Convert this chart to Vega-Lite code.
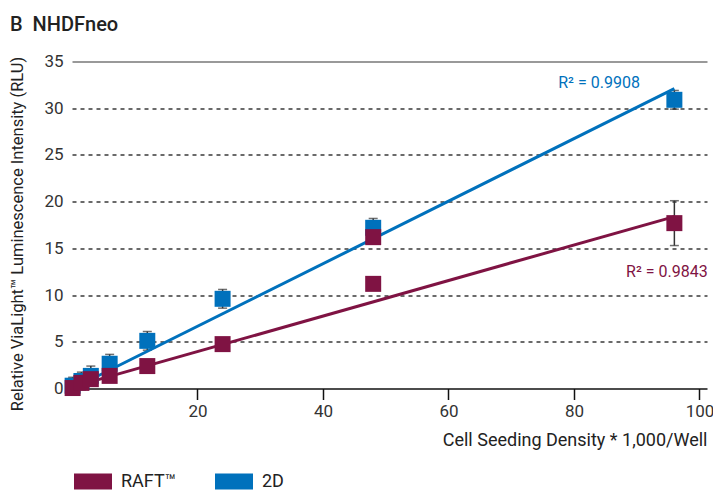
{
  "$schema": "https://vega.github.io/schema/vega-lite/v6.json",
  "autosize": {"type": "none"},
  "padding": {"left": 72, "top": 61.5, "right": 6, "bottom": 101.5},
  "width": 635,
  "height": 327,
  "background": "white",
  "config": {
    "font": "Roboto",
    "view": {"stroke": null},
    "axis": {"labelFont": "Roboto", "titleFont": "Roboto", "labelColor": "#333", "titleColor": "#222", "titleFontWeight": "normal"}
  },
  "title": {"text": "B\u00a0\u00a0NHDFneo", "anchor": "start", "frame": "group", "dx": -62, "offset": 18, "fontSize": 20, "fontWeight": 500, "color": "#222", "font": "Roboto"},
  "datasets": {
    "points": [
      {"series": "2D", "x": 0.1, "y": 0.3, "err": 0.9},
      {"series": "2D", "x": 1.5, "y": 0.8, "err": 0.95},
      {"series": "2D", "x": 3, "y": 1.35, "err": 1.05},
      {"series": "2D", "x": 6, "y": 2.65, "err": 1.0},
      {"series": "2D", "x": 12, "y": 5.1, "err": 1.0},
      {"series": "2D", "x": 24, "y": 9.6, "err": 1.0},
      {"series": "2D", "x": 48, "y": 17.2, "err": 1.0},
      {"series": "2D", "x": 96, "y": 30.9, "err": 1.0},
      {"series": "RAFT™", "x": 0.1, "y": 0.05, "err": 0.5},
      {"series": "RAFT™", "x": 1.5, "y": 0.6, "err": 0.5},
      {"series": "RAFT™", "x": 3, "y": 1.0, "err": 0.5},
      {"series": "RAFT™", "x": 6, "y": 1.35, "err": 0.5},
      {"series": "RAFT™", "x": 12, "y": 2.4, "err": 0.5},
      {"series": "RAFT™", "x": 24, "y": 4.75, "err": 0.5},
      {"series": "RAFT™", "x": 48, "y": 16.2, "err": 0.6},
      {"series": "RAFT™", "x": 48, "y": 11.2, "err": 0.6},
      {"series": "RAFT™", "x": 96, "y": 17.7, "err": 2.4}
    ],
    "fits": [
      {"series": "RAFT™", "x": 0.1, "y": 0.17},
      {"series": "RAFT™", "x": 96, "y": 18.4},
      {"series": "2D", "x": 0.1, "y": 0.0},
      {"series": "2D", "x": 96, "y": 32.1}
    ],
    "labels": [
      {"series": "2D", "x": 84.0, "y": 32.7, "label": "R² = 0.9908"},
      {"series": "RAFT™", "x": 94.8, "y": 12.45, "label": "R² = 0.9843"}
    ]
  },
  "layer": [
    {
      "data": {"name": "points"},
      "mark": {"type": "errorbar", "ticks": {"size": 9, "thickness": 1.5, "color": "#333"}, "rule": {"strokeWidth": 1.5, "color": "#333"}, "color": "#333"},
      "encoding": {
        "x": {
          "field": "x", "type": "quantitative",
          "scale": {"domain": [0, 101.2], "nice": false, "zero": false},
          "axis": {
            "title": "Cell Seeding Density * 1,000/Well",
            "titleAnchor": "end", "titleFontSize": 18, "titleY": 52, "titleBaseline": "middle",
            "values": [20, 40, 60, 80, 100], "grid": false,
            "domainColor": "#111", "domainWidth": 1.5,
            "tickColor": "#111", "tickSize": 11, "tickWidth": 1.5,
            "labelFontSize": 17, "labelPadding": 4
          }
        },
        "y": {
          "field": "y", "type": "quantitative",
          "scale": {"domain": [0, 35], "nice": false},
          "axis": {
            "title": "Relative ViaLight™ Luminescence Intensity (RLU)",
            "titleFontSize": 16.5, "titleX": -55, "titleY": 172, "titleBaseline": "middle", "titleAngle": -90,
            "values": [0, 5, 10, 15, 20, 25, 30, 35],
            "domain": false, "ticks": false, "labelPadding": 9, "labelFontSize": 17,
            "grid": true,
            "gridColor": {"condition": {"test": "datum.value === 35", "value": "#777"}, "value": "#3a3a3a"},
            "gridDash": {"condition": {"test": "datum.value === 35", "value": []}, "value": [4, 4]},
            "gridOpacity": {"condition": {"test": "datum.value === 0", "value": 0}, "value": 1},
            "gridWidth": {"condition": {"test": "datum.value === 35", "value": 1.5}, "value": 1.3}
          }
        },
        "yError": {"field": "err"}
      }
    },
    {
      "data": {"name": "fits"},
      "mark": {"type": "line", "strokeWidth": 3},
      "encoding": {
        "x": {"field": "x", "type": "quantitative"},
        "y": {"field": "y", "type": "quantitative"},
        "color": {"field": "series", "type": "nominal", "legend": null}
      }
    },
    {
      "data": {"name": "points"},
      "mark": {"type": "point", "shape": "square", "filled": true, "size": 256, "opacity": 1},
      "encoding": {
        "x": {"field": "x", "type": "quantitative"},
        "y": {"field": "y", "type": "quantitative"},
        "color": {
          "field": "series", "type": "nominal",
          "scale": {"domain": ["RAFT™", "2D"], "range": ["#7f1343", "#0071bc"]},
          "legend": {
            "title": null, "orient": "none", "direction": "horizontal",
            "legendX": 2, "legendY": 401, "padding": 0,
            "symbolType": "M-1,-0.421H1V0.421H-1Z", "symbolSize": 1444, "symbolStrokeWidth": 0,
            "labelFontSize": 18, "labelColor": "#222", "labelFont": "Roboto", "labelOffset": 9,
            "columnPadding": 39
          }
        }
      }
    },
    {
      "data": {"name": "labels"},
      "mark": {"type": "text", "fontSize": 16, "align": "center", "baseline": "middle", "font": "Roboto"},
      "encoding": {
        "x": {"field": "x", "type": "quantitative"},
        "y": {"field": "y", "type": "quantitative"},
        "text": {"field": "label"},
        "color": {"field": "series", "type": "nominal", "legend": null}
      }
    }
  ],
  "resolve": {"legend": {"color": "independent"}}
}
